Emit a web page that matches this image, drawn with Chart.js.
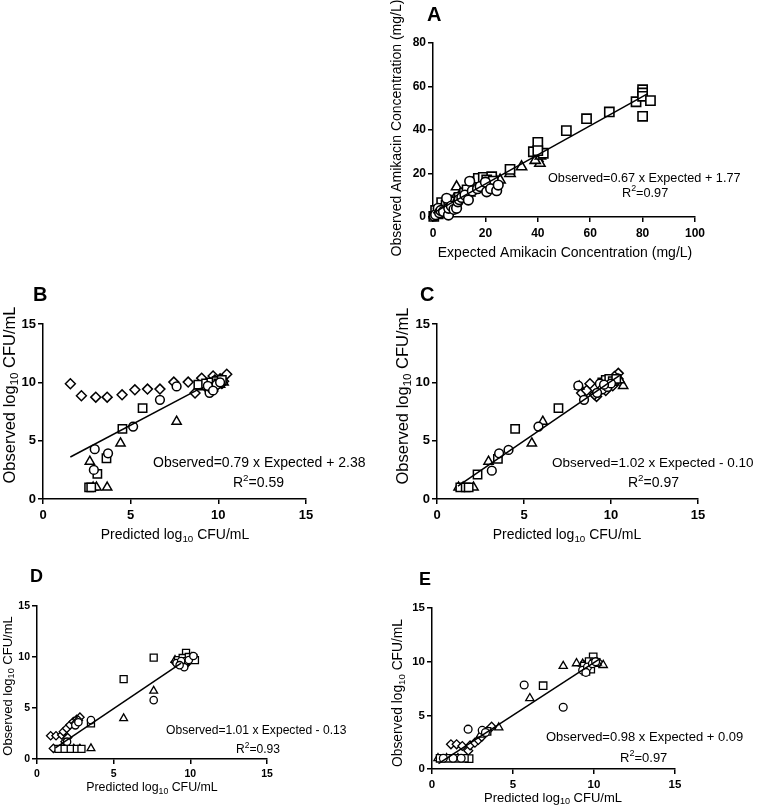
<!DOCTYPE html>
<html><head><meta charset="utf-8">
<script src="https://cdn.jsdelivr.net/npm/chart.js@4.4.1/dist/chart.umd.min.js"></script>
<style>
html,body{margin:0;padding:0;background:#fff;}
body{width:760px;height:810px;position:relative;overflow:hidden;}
canvas{position:absolute;}
</style></head><body>
<canvas id="cA"></canvas><canvas id="cB"></canvas><canvas id="cC"></canvas><canvas id="cD"></canvas><canvas id="cE"></canvas>
<script>
// ---------------- DATA ----------------
// Panel A: expected vs observed amikacin (mg/L)
const A_circles = [[0.5,0.5],[1,1],[2,4],[2.5,2],[3,3],[4,2.5],[5.2,8.6],[5.9,0.9],[6,4],[7,5],[8,3.5],[9,4],[9.5,7],[10,8],[11,9],[12.2,10.1],[13.5,7.8],[14,16.4],[15,12],[17,13],[18,14],[20,16],[20.5,11.6],[22,13],[24.3,12.1],[24.9,14.7]];
const A_squares = [[0.3,0.3],[1,3],[2,1.5],[3.3,6.6],[4,4],[5,5.5],[6,6],[8,7],[10,9],[12,11],[13,12.5],[16.7,16.2],[17.3,17.8],[19.2,18.2],[22.4,18.5],[20.5,17],[21,15.5],[23,16.5],[29.4,21.9],[38.3,30],[40,34.3],[42.1,29.3],[40,30.5],[50.9,39.7],[58.6,45.2],[67.3,48.3],[77.5,53],[80,58.5],[80,57],[80,55.5],[83,53.5],[80,46.3]];
const A_triangles = [[0.5,1],[1.5,2],[2.5,3.5],[4,5],[6,5.5],[7,7],[8,8],[9,13.9],[10,9.5],[11,10.5],[14,11],[16,13],[18,14.5],[20,15],[22,15.5],[24,17],[25.6,17],[29.4,20],[33.8,23.1],[40,27],[40.8,24.7],[39,26],[41,28]];
const A_fit = [[0,1.8],[82,56.7]];
const A_xTicks = [0,20,40,60,80,100];
const A_yTicks = [0,20,40,60,80];

// Panel B: predicted vs observed log10 CFU/mL
const B_circles = [[7.62,9.65],[6.67,8.5],[5.14,6.21],[2.95,4.27],[3.71,3.92],[2.9,2.49],[9.5,9.1],[9.6,9.5],[9.9,9.8],[10.1,10.0],[9.4,9.7],[9.7,9.3]];
const B_squares = [[5.68,7.79],[4.53,6.01],[3.62,3.49],[3.1,2.15],[2.63,1.0],[2.75,1.0],[8.86,9.8],[9.3,9.9],[9.6,10.0],[9.9,10.1],[10.2,10.2],[9.5,9.6],[10.0,9.9]];
const B_triangles = [[7.62,6.64],[4.42,4.78],[2.67,3.21],[2.86,1.0],[3.05,1.0],[3.66,1.0],[9.2,9.6],[9.5,9.9],[9.8,10.0],[10.1,9.8],[10.3,10.0],[9.7,9.5]];
const B_diamonds = [[1.56,9.88],[2.19,8.85],[3.01,8.73],[3.66,8.73],[4.51,8.93],[5.24,9.36],[5.96,9.42],[6.67,9.42],[7.46,10.02],[8.28,10.02],[8.67,9.08],[9.05,10.36],[9.7,10.55],[10.48,10.7],[9.3,9.6],[9.5,9.8],[9.8,10.2],[10.1,10.3],[10.3,10.1],[9.9,9.7],[9.6,9.4],[10.2,9.9]];
const B_fit = [[1.56,3.6],[9.0,9.5]];

// Panel C
const C_circles = [[8.45,8.5],[5.83,6.21],[4.11,4.21],[3.57,3.92],[3.15,2.43],[8.12,9.71],[9.36,9.88],[9.5,9.4],[9.8,9.6],[9.2,9.1],[10.0,9.9],[9.6,9.8]];
const C_squares = [[6.98,7.79],[4.49,6.01],[3.5,3.44],[2.33,2.1],[1.34,1.0],[1.65,1.0],[1.82,1.0],[9.5,10.0],[9.7,10.2],[9.9,10.3],[10.1,10.1],[9.6,9.7],[10.3,10.3]];
const C_triangles = [[5.45,4.78],[6.08,6.64],[2.96,3.21],[1.24,1.0],[2.1,1.0],[1.5,1.0],[8.18,9.65],[10.7,9.7],[9.4,9.5],[9.9,9.9],[10.2,10.0],[10.5,10.2]];
const C_diamonds = [[8.79,9.88],[8.31,9.08],[9.17,8.79],[9.05,8.95],[10.42,10.77],[10.2,10.5],[9.5,9.6],[9.8,10.0],[10.0,10.2],[9.3,9.2],[10.4,10.3],[9.7,9.3],[10.1,9.7],[8.6,9.3]];
const C_fit = [[1.2,1.1],[10.5,10.6]];

// Panel D
const D_circles = [[7.61,5.77],[3.52,3.81],[1.96,1.7],[2.5,3.3],[2.7,3.6],[9.1,9.4],[9.4,9.6],[9.6,9.0],[9.9,9.7],[10.2,10.1],[9.3,9.2]];
const D_squares = [[7.61,9.94],[5.65,7.83],[3.52,3.49],[9.72,10.4],[1.4,1.0],[1.8,1.0],[2.2,1.0],[2.6,1.0],[2.9,1.0],[9.2,9.7],[9.5,9.9],[9.9,10.0],[10.2,9.9],[10.3,9.7],[9.7,9.6]];
const D_triangles = [[7.61,6.68],[5.65,3.98],[3.52,1.04],[1.6,1.0],[2.0,1.0],[2.4,1.0],[2.8,1.0],[9.0,9.7],[9.3,9.5],[9.8,9.8],[10.1,10.0],[9.5,9.3]];
const D_diamonds = [[0.89,2.28],[1.24,2.28],[1.07,1.04],[1.61,2.35],[1.72,2.68],[1.94,3.0],[2.15,3.33],[2.37,3.66],[2.59,3.89],[2.8,4.1],[1.83,1.7],[2.0,2.1],[2.5,3.5],[2.7,3.8],[9.0,9.5],[9.4,9.8],[9.8,9.4],[10.1,9.8],[9.6,9.2]];
const D_fit = [[1.2,1.1],[9.4,9.4]];

// Panel E
const E_circles = [[5.69,7.83],[8.1,5.75],[2.23,3.71],[3.1,3.6],[3.3,3.4],[0.7,1.0],[1.3,1.0],[1.8,1.0],[9.3,9.2],[9.6,9.5],[9.9,9.8],[9.5,9.0],[10.1,10.0]];
const E_squares = [[6.86,7.76],[9.95,10.45],[2.29,0.96],[0.5,1.0],[1.0,1.0],[1.5,1.0],[2.0,1.0],[3.4,3.5],[9.4,9.6],[9.7,10.0],[10.0,9.9],[9.8,9.3],[9.5,9.1]];
const E_triangles = [[8.1,9.59],[6.04,6.59],[4.12,3.87],[8.92,9.84],[10.57,9.68],[0.37,1.0],[0.9,1.0],[1.6,1.0],[3.0,3.2],[9.3,9.8],[9.7,9.7],[10.2,9.9]];
const E_diamonds = [[1.17,2.3],[1.52,2.3],[1.87,2.14],[2.24,1.71],[2.35,2.2],[2.65,2.45],[2.86,2.7],[3.07,3.0],[3.37,3.48],[3.68,3.94],[9.4,9.6],[9.7,9.4],[10.0,10.1],[10.3,9.9],[9.6,9.9]];
const E_fit = [[0.4,0.5],[10.4,10.3]];

const CFU_xTicks = [0,5,10,15];
const CFU_yTicks = [0,5,10,15];

// ---------------- TEXT ----------------
const FONT = '"Liberation Sans", Arial, Helvetica, sans-serif';
const T_A_x = [{t:'Expected Amikacin Concentration (mg/L)'}];
const T_A_y = [{t:'Observed Amikacin Concentration (mg/L)'}];
const T_pred = [{t:'Predicted log'},{t:'10',sub:true},{t:' CFU/mL'}];
const T_obs = [{t:'Observed log'},{t:'10',sub:true},{t:' CFU/mL'}];

function drawRich(ctx, segs, x, y, size, bold, align, rot){
  ctx.save();
  ctx.translate(x, y);
  if (rot) ctx.rotate(-Math.PI/2);
  ctx.fillStyle = '#000';
  ctx.textBaseline = 'middle';
  ctx.textAlign = 'left';
  const w = (bold ? 'bold ' : '');
  let total = 0;
  segs.forEach(s => { const fs = (s.sub||s.sup) ? size*0.7 : size; ctx.font = w + fs + 'px ' + FONT; total += ctx.measureText(s.t).width; });
  let cx = align === 'center' ? -total/2 : 0;
  segs.forEach(s => {
    const fs = (s.sub||s.sup) ? size*0.7 : size;
    ctx.font = w + fs + 'px ' + FONT;
    const dy = s.sub ? size*0.3 : (s.sup ? -size*0.35 : 0);
    ctx.fillText(s.t, cx, dy);
    cx += ctx.measureText(s.t).width;
  });
  ctx.restore();
}

const textPlugin = {
  id: 'panelText',
  afterDraw(chart, args, opts){
    const ctx = chart.ctx;
    (opts.items || []).forEach(it => drawRich(ctx, it.segs, it.x - opts.origin[0], it.y - opts.origin[1], it.size, it.bold, it.align, it.rot));
  }
};
Chart.register(textPlugin);

function eqSegs(str){ return [{t:str}]; }
function r2Segs(v){ return [{t:'R'},{t:'2',sup:true},{t:'='+v}]; }

// ---------------- PANELS ----------------
const panels = [
  { id:'cA', canvas:[380,0,380,272], area:[433,43,695,217], xMax:100, yMax:80, xTicks:A_xTicks, yTicks:A_yTicks, tickFont:12, ms:1.05, bw:1.6,
    series:[{d:A_circles,s:'circle'},{d:A_squares,s:'rect'},{d:A_triangles,s:'triangle'}], fit:A_fit,
    text:[
      {segs:[{t:'A'}], x:427, y:15, size:20, bold:true, align:'left'},
      {segs:T_A_y, x:397, y:128, size:14, align:'center', rot:true},
      {segs:T_A_x, x:565, y:253, size:14, align:'center'},
      {segs:eqSegs('Observed=0.67 x Expected + 1.77'), x:548, y:178, size:12.7, align:'left'},
      {segs:r2Segs('0.97'), x:622, y:193, size:12.7, align:'left'}
    ]},
  { id:'cB', canvas:[0,280,380,262], area:[43,324,306,499], xMax:15, yMax:15, xTicks:CFU_xTicks, yTicks:CFU_yTicks, tickFont:13, ms:0.95, bw:1.5,
    series:[{d:B_circles,s:'circle'},{d:B_squares,s:'rect'},{d:B_triangles,s:'triangle'},{d:B_diamonds,s:'rectRot'}], fit:B_fit,
    text:[
      {segs:[{t:'B'}], x:33, y:295, size:20, bold:true, align:'left'},
      {segs:T_obs, x:10, y:395, size:16.5, align:'center', rot:true},
      {segs:T_pred, x:175, y:535, size:14, align:'center'},
      {segs:eqSegs('Observed=0.79 x Expected + 2.38'), x:153, y:463, size:14, align:'left'},
      {segs:r2Segs('0.59'), x:233, y:483, size:14, align:'left'}
    ]},
  { id:'cC', canvas:[380,280,380,262], area:[437,324,698,499], xMax:15, yMax:15, xTicks:CFU_xTicks, yTicks:CFU_yTicks, tickFont:13, ms:0.95, bw:1.5,
    series:[{d:C_circles,s:'circle'},{d:C_squares,s:'rect'},{d:C_triangles,s:'triangle'},{d:C_diamonds,s:'rectRot'}], fit:C_fit,
    text:[
      {segs:[{t:'C'}], x:420, y:295, size:20, bold:true, align:'left'},
      {segs:T_obs, x:403, y:396, size:16.5, align:'center', rot:true},
      {segs:T_pred, x:567, y:535, size:14, align:'center'},
      {segs:eqSegs('Observed=1.02 x Expected - 0.10'), x:552, y:463, size:13.5, align:'left'},
      {segs:r2Segs('0.97'), x:628, y:483, size:14, align:'left'}
    ]},
  { id:'cD', canvas:[0,555,380,255], area:[37,606,267,759], xMax:15, yMax:15, xTicks:CFU_xTicks, yTicks:CFU_yTicks, tickFont:10.5, ms:0.8, bw:1.3,
    series:[{d:D_circles,s:'circle'},{d:D_squares,s:'rect'},{d:D_triangles,s:'triangle'},{d:D_diamonds,s:'rectRot'}], fit:D_fit,
    text:[
      {segs:[{t:'D'}], x:30, y:577, size:18, bold:true, align:'left'},
      {segs:T_obs, x:8, y:686, size:13, align:'center', rot:true},
      {segs:T_pred, x:152, y:788, size:12.4, align:'center'},
      {segs:eqSegs('Observed=1.01 x Expected - 0.13'), x:166, y:731, size:12.1, align:'left'},
      {segs:r2Segs('0.93'), x:236, y:750, size:12.1, align:'left'}
    ]},
  { id:'cE', canvas:[380,555,380,255], area:[432,608,675,769], xMax:15, yMax:15, xTicks:CFU_xTicks, yTicks:CFU_yTicks, tickFont:11.5, ms:0.85, bw:1.3,
    series:[{d:E_circles,s:'circle'},{d:E_squares,s:'rect'},{d:E_triangles,s:'triangle'},{d:E_diamonds,s:'rectRot'}], fit:E_fit,
    text:[
      {segs:[{t:'E'}], x:419, y:580, size:18, bold:true, align:'left'},
      {segs:T_obs, x:398, y:693, size:13.8, align:'center', rot:true},
      {segs:T_pred, x:553, y:798, size:13, align:'center'},
      {segs:eqSegs('Observed=0.98 x Expected + 0.09'), x:546, y:737, size:13, align:'left'},
      {segs:r2Segs('0.97'), x:620, y:758, size:13, align:'left'}
    ]}
];

const BASE_R = {circle:4.6, rect:6.2, triangle:5.6, rectRot:5.2};

function makeChart(p){
  const cv = document.getElementById(p.id);
  const [cx, cy, cw, ch] = p.canvas;
  cv.width = cw; cv.height = ch;
  cv.style.left = cx + 'px'; cv.style.top = cy + 'px';
  cv.style.width = cw + 'px'; cv.style.height = ch + 'px';
  const [L, T, R, B] = p.area;
  const pl = L - cx, pt = T - cy, pr = cx + cw - R, pb = cy + ch - B;
  const datasets = p.series.map(s => ({
    data: s.d.map(v => ({x:v[0], y:v[1]})),
    pointStyle: s.s, pointRadius: BASE_R[s.s]*p.ms, pointHoverRadius: BASE_R[s.s]*p.ms,
    pointBorderWidth: p.bw, borderColor:'#000', backgroundColor:'#fff', clip:false, order:1
  }));
  datasets.push({ type:'line', data: p.fit.map(v => ({x:v[0], y:v[1]})), borderColor:'#000', borderWidth:1.5,
    pointRadius:0, fill:false, order:0, clip:false, showLine:true });
  const tickFont = {family: FONT, size: p.tickFont, weight:'bold'};
  new Chart(cv, {
    type:'scatter',
    data:{datasets},
    options:{
      responsive:false, animation:false, devicePixelRatio:1,
      layout:{padding:{top:pt, right:pr, left:0, bottom:0}},
      plugins:{legend:{display:false}, tooltip:{enabled:false},
        panelText:{origin:[cx, cy], items:p.text}},
      scales:{
        x:{type:'linear', min:0, max:p.xMax,
          afterBuildTicks: s => { s.ticks = p.xTicks.map(v => ({value:v})); },
          ticks:{font:tickFont, color:'#000', padding:4, maxRotation:0, autoSkip:false},
          grid:{drawOnChartArea:false, drawTicks:true, tickLength:5, color:'#000', lineWidth:1.5},
          border:{color:'#000', width:1.5},
          afterFit: s => { s.height = pb; }},
        y:{type:'linear', min:0, max:p.yMax,
          afterBuildTicks: s => { s.ticks = p.yTicks.map(v => ({value:v})); },
          ticks:{font:tickFont, color:'#000', padding:2, autoSkip:false},
          grid:{drawOnChartArea:false, drawTicks:true, tickLength:5, color:'#000', lineWidth:1.5},
          border:{color:'#000', width:1.5},
          afterFit: s => { s.width = pl; }}
      }
    }
  });
}
panels.forEach(makeChart);
</script>
</body></html>
